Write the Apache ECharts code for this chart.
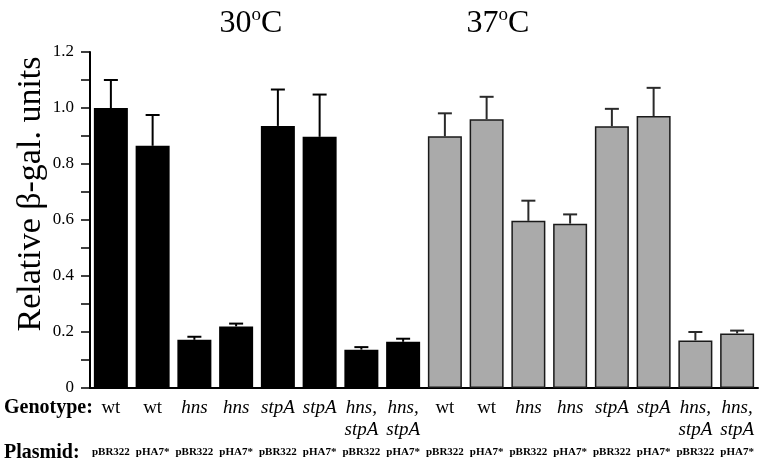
<!DOCTYPE html>
<html>
<head>
<meta charset="utf-8">
<script src="https://cdn.jsdelivr.net/npm/echarts@6/dist/echarts.min.js"></script>
<style>html,body{margin:0;padding:0;background:#fff}#c{width:765px;height:467px}</style>
</head>
<body>
<div id="c"></div>
<script>
// ---- data ----
var genotypeLine1 = ['wt','wt','hns','hns','stpA','stpA','hns,','hns,','wt','wt','hns','hns','stpA','stpA','hns,','hns,'];
var genotypeLine2 = ['','','','','','','stpA','stpA','','','','','','','stpA','stpA'];
var plasmids = ['pBR322','pHA7*','pBR322','pHA7*','pBR322','pHA7*','pBR322','pHA7*','pBR322','pHA7*','pBR322','pHA7*','pBR322','pHA7*','pBR322','pHA7*'];
var values30 = [1.00, 0.865, 0.172, 0.220, 0.936, 0.897, 0.137, 0.165];
var errors30 = [0.100, 0.110, 0.011, 0.010, 0.130, 0.151, 0.009, 0.011];
var values37 = [0.899, 0.960, 0.597, 0.587, 0.935, 0.971, 0.170, 0.195];
var errors37 = [0.082, 0.080, 0.072, 0.033, 0.062, 0.101, 0.030, 0.010];
var groupTitles = ['30', '37'];
var yTicks = [0, 0.2, 0.4, 0.6, 0.8, 1.0, 1.2];

var categories = genotypeLine1.map(function (g, i) { return String(i); });
var values = values30.concat(values37);
var errors = errors30.concat(errors37);
var n30 = values30.length;

var barData = values.map(function (v, i) {
  return {
    value: v,
    itemStyle: i < n30
      ? { color: '#000000', borderColor: '#000000', borderWidth: 0 }
      : { color: '#aaaaaa', borderColor: '#1a1a1a', borderWidth: 1.5 }
  };
});
var errData = values.map(function (v, i) { return [i, v, v + errors[i]]; });

var serif = '"Liberation Serif", "DejaVu Serif", serif';

function titleStyle(num) {
  return {
    text: '{t|' + num + '}{s|o}{t|C}',
    rich: {
      t: { fontFamily: serif, fontSize: 32, color: '#000', lineHeight: 36 },
      s: { fontFamily: serif, fontSize: 19, color: '#000', lineHeight: 36, verticalAlign: 'top', padding: [0, 0, 0, 0] }
    },
    fill: '#000', textAlign: 'center', textVerticalAlign: 'middle'
  };
}

var chart = echarts.init(document.getElementById('c'));
chart.setOption({
  animation: false,
  backgroundColor: '#ffffff',
  grid: { left: 90, right: 7, top: 52, bottom: 79 },
  xAxis: {
    type: 'category',
    data: categories,
    axisLine: { lineStyle: { color: '#000', width: 2 } },
    axisTick: { show: false },
    axisLabel: {
      interval: 0,
      margin: 9,
      verticalAlign: 'top',
      formatter: function (val, idx) {
        var i = Number(val);
        var g1 = genotypeLine1[i];
        var st1 = g1 === 'wt' ? 'g' : 'gi';
        var g2 = genotypeLine2[i] ? '{gi|' + genotypeLine2[i] + '}' : '{g| }';
        return '{' + st1 + '|' + g1 + '}\n' + g2 + '\n{p|' + plasmids[i] + '}';
      },
      rich: {
        g: { fontFamily: serif, fontSize: 19, color: '#000', lineHeight: 22 },
        gi: { fontFamily: serif, fontSize: 19, fontStyle: 'italic', color: '#000', lineHeight: 22 },
        p: { fontFamily: serif, fontSize: 11, fontWeight: 'bold', color: '#000', lineHeight: 23 }
      }
    }
  },
  yAxis: {
    type: 'value',
    min: 0,
    max: 1.2,
    interval: 0.2,
    axisLine: { show: true, lineStyle: { color: '#000', width: 2 } },
    axisTick: { show: true, length: 9, lineStyle: { color: '#000', width: 1.5 } },
    minorTick: { show: true, splitNumber: 2, length: 9, lineStyle: { color: '#000', width: 1.5 } },
    splitLine: { show: false },
    axisLabel: {
      margin: 16,
      fontFamily: serif,
      fontSize: 17,
      color: '#000',
      formatter: function (v) {
        for (var k = 0; k < yTicks.length; k++) {
          if (Math.abs(yTicks[k] - v) < 1e-6) return v === 0 ? '0' : yTicks[k].toFixed(1);
        }
        return '';
      }
    }
  },
  graphic: [
    {
      type: 'text', x: 31, y: 194, rotation: Math.PI / 2,
      style: { text: 'Relative β-gal. units', font: '34px ' + serif, fill: '#000',
               textAlign: 'center', textVerticalAlign: 'middle' }
    },
    {
      type: 'text', x: 4, y: 408,
      style: { text: 'Genotype:', font: 'bold 20px ' + serif, fill: '#000', textVerticalAlign: 'middle' }
    },
    {
      type: 'text', x: 4, y: 453,
      style: { text: 'Plasmid:', font: 'bold 20px ' + serif, fill: '#000', textVerticalAlign: 'middle' }
    },
    { type: 'text', x: 251, y: 24, style: titleStyle(groupTitles[0]) },
    { type: 'text', x: 498, y: 24, style: titleStyle(groupTitles[1]) }
  ],
  series: [
    {
      type: 'bar',
      data: barData,
      barWidth: 34,
      z: 2
    },
    {
      type: 'custom',
      z: 1,
      data: errData,
      renderItem: function (params, api) {
        var i = api.value(0);
        var base = api.coord([i, api.value(1)]);
        var top = api.coord([i, api.value(2)]);
        var col = i < n30 ? '#000' : '#2a2a2a';
        var hw = 7;
        return {
          type: 'group',
          children: [
            { type: 'line', shape: { x1: base[0], y1: base[1], x2: top[0], y2: top[1] },
              style: { stroke: col, lineWidth: 2 } },
            { type: 'line', shape: { x1: top[0] - hw, y1: top[1], x2: top[0] + hw, y2: top[1] },
              style: { stroke: col, lineWidth: 2 } }
          ]
        };
      }
    }
  ]
});
</script>
</body>
</html>
